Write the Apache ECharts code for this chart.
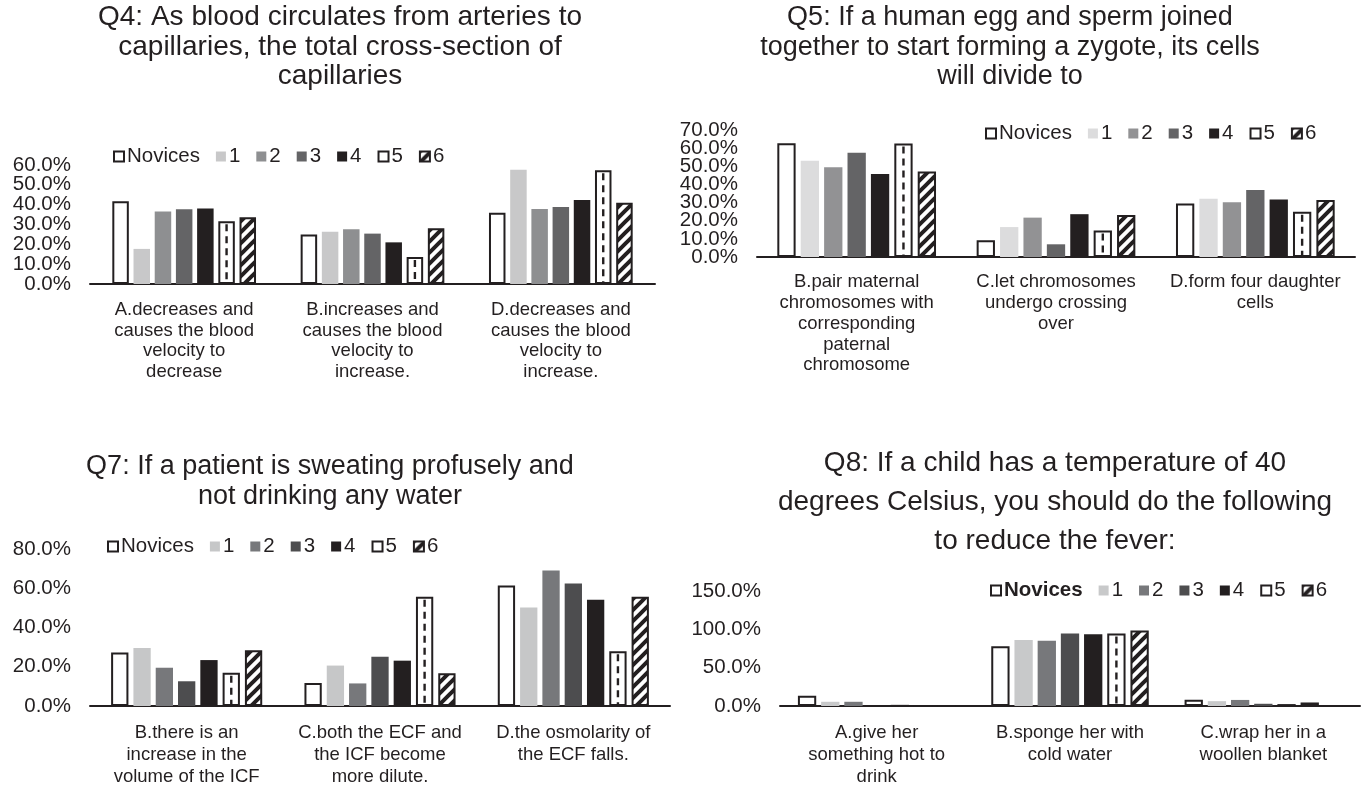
<!DOCTYPE html>
<html>
<head>
<meta charset="utf-8">
<script src="https://cdn.jsdelivr.net/npm/echarts@6/dist/echarts.min.js"></script>
<style>
  html, body { margin: 0; padding: 0; background: #fff; width: 1364px; height: 791px; overflow: hidden; }
  .panel { position: absolute; left: 0; top: 0; width: 1364px; height: 791px; }
</style>
</head>
<body>
<div id="q4" class="panel"></div>
<div id="q5" class="panel"></div>
<div id="q7" class="panel"></div>
<div id="q8" class="panel"></div>
<script>
// Respondent groups shown in every chart
const seriesNames = ['Novices', '1', '2', '3', '4', '5', '6'];

// Q4 — answer options and share (%) per group (rows follow seriesNames)
const q4Title = 'Q4: As blood circulates from arteries to\ncapillaries, the total cross-section of\ncapillaries';
const q4Categories = [
  'A.decreases and\ncauses the blood\nvelocity to\ndecrease',
  'B.increases and\ncauses the blood\nvelocity to\nincrease.',
  'D.decreases and\ncauses the blood\nvelocity to\nincrease.'
];
const q4Values = [
  [41.7, 24.9, 35.9],
  [17.7, 26.3, 57.6],
  [36.5, 27.6, 37.8],
  [37.7, 25.4, 38.8],
  [38.1, 21.0, 42.4],
  [31.7, 13.6, 57.3],
  [33.6, 28.1, 41.0]
];
const q4Ticks = [0, 10, 20, 30, 40, 50, 60];

// Q5
const q5Title = 'Q5: If a human egg and sperm joined\ntogether to start forming a zygote, its cells\nwill divide to';
const q5Categories = [
  'B.pair maternal\nchromosomes with\ncorresponding\npaternal\nchromosome',
  'C.let chromosomes\nundergo crossing\nover',
  'D.form four daughter\ncells'
];
const q5Values = [
  [62.7, 9.3, 29.5],
  [53.0, 16.5, 32.1],
  [49.4, 21.7, 30.2],
  [57.4, 7.0, 36.9],
  [45.8, 23.6, 31.7],
  [62.5, 14.6, 24.9],
  [47.1, 23.2, 31.4]
];
const q5Ticks = [0, 10, 20, 30, 40, 50, 60, 70];

// Q7
const q7Title = 'Q7: If a patient is sweating profusely and\nnot drinking any water';
const q7Categories = [
  'B.there is an\nincrease in the\nvolume of the ICF',
  'C.both the ECF and\nthe ICF become\nmore dilute.',
  'D.the osmolarity of\nthe ECF falls.'
];
const q7Values = [
  [27.2, 11.7, 61.4],
  [29.6, 20.6, 50.2],
  [19.5, 11.5, 69.1],
  [12.6, 25.1, 62.4],
  [23.4, 23.1, 54.2],
  [17.0, 55.7, 27.9],
  [28.4, 16.7, 55.7]
];
const q7Ticks = [0, 20, 40, 60, 80];

// Q8
const q8Title = 'Q8: If a child has a temperature of 40\ndegrees Celsius, you should do the following\nto reduce the fever:';
const q8Categories = [
  'A.give her\nsomething hot to\ndrink',
  'B.sponge her with\ncold water',
  'C.wrap her in a\nwoollen blanket'
];
const q8Values = [
  [13.5, 78.0, 8.3],
  [5.5, 86.0, 6.3],
  [5.5, 85.0, 7.9],
  [0, 94.5, 2.9],
  [1.5, 93.5, 2.5],
  [0, 94.5, 4.6],
  [0, 98.5, 0]
];
const q8Ticks = [0, 50, 100, 150];

const INK = '#231f20';
const FONT = '"Liberation Sans", Arial, Helvetica, sans-serif';

// Diagonal "/" hatch used by group 6
function makeHatch() {
  const s = 11;
  const c = document.createElement('canvas');
  c.width = s; c.height = s;
  const ctx = c.getContext('2d');
  ctx.fillStyle = '#ffffff';
  ctx.fillRect(0, 0, s, s);
  ctx.strokeStyle = INK;
  ctx.lineWidth = 4;
  ctx.lineCap = 'square';
  ctx.beginPath();
  ctx.moveTo(-1, s + 1); ctx.lineTo(s + 1, -1);
  ctx.moveTo(-3, 3); ctx.lineTo(3, -3);
  ctx.moveTo(s - 3, s + 3); ctx.lineTo(s + 3, s - 3);
  ctx.stroke();
  return c;
}
const hatch = makeHatch();

// Value axis; tick labels are split over two stacked axes (even / odd ticks)
// so the tightly packed percentages are all kept.
function valueAxis(ticks, parity) {
  const step = ticks[1] - ticks[0];
  return {
    type: 'value',
    position: 'left',
    offset: 0,
    min: ticks[0],
    max: ticks[ticks.length - 1],
    interval: step,
    axisLine: { show: false },
    axisTick: { show: false },
    splitLine: { show: false },
    axisLabel: {
      color: INK,
      fontFamily: FONT,
      fontSize: 20.5,
      margin: 19,
      showMinLabel: true,
      showMaxLabel: true,
      hideOverlap: false,
      formatter: v => (Math.round(v / step) % 2 === parity ? v.toFixed(1) + '%' : '')
    }
  };
}

function buildChart(el, cfg) {
  const chart = echarts.init(document.getElementById(el), null, { renderer: 'canvas' });
  const bw = cfg.barWidth, gap = cfg.barGap;
  const total = 7 * bw + 6 * gap;
  const offset5 = -total / 2 + bw / 2 + 5 * (bw + gap);

  const fills = [
    '#ffffff', cfg.colors[0], cfg.colors[1], cfg.colors[2], cfg.colors[3],
    '#ffffff', { image: hatch, repeat: 'repeat' }
  ];
  const outlined = [true, false, false, false, false, true, true];

  const series = seriesNames.map((name, k) => ({
    type: 'bar',
    name: name,
    data: cfg.values[k],
    barWidth: bw,
    barGap: (gap / bw * 100) + '%',
    itemStyle: outlined[k]
      ? { color: fills[k], borderColor: INK, borderWidth: 2 }
      : { color: fills[k] },
    emphasis: { disabled: true },
    animation: false
  }));

  // dashed centre line of group 5 bars
  series.push({
    type: 'custom',
    silent: true,
    animation: false,
    z: 5,
    data: cfg.values[5].map((v, i) => [i, v]),
    encode: { x: 0, y: 1 },
    renderItem: function (params, api) {
      const v = api.value(1);
      if (!v) return null;
      const i = api.value(0);
      const top = api.coord([i, v]);
      const base = api.coord([i, 0]);
      const x = top[0] + offset5;
      return {
        type: 'line',
        shape: { x1: x, y1: top[1] + 3, x2: x, y2: base[1] - 1 },
        style: { stroke: INK, lineWidth: 2.4, lineDash: [7, 5] }
      };
    }
  });

  chart.setOption({
    backgroundColor: 'transparent',
    animation: false,
    textStyle: { fontFamily: FONT },
    title: {
      text: cfg.title,
      left: cfg.titleX,
      top: cfg.titleY,
      padding: 0,
      textAlign: 'center',
      textStyle: {
        fontFamily: FONT, fontSize: cfg.titleSize, fontWeight: 'normal',
        color: INK, lineHeight: cfg.titleLine
      }
    },
    legend: {
      data: seriesNames,
      left: cfg.legendX,
      top: cfg.legendY,
      icon: 'rect',
      itemWidth: 10,
      itemHeight: 10,
      itemGap: cfg.legendGap,
      padding: 0,
      selectedMode: false,
      formatter: cfg.boldFirst
        ? (n => n === 'Novices' ? '{b|Novices}' : n)
        : (n => n),
      textStyle: {
        fontFamily: FONT, fontSize: 20.5, color: INK, padding: [0, 0, 0, -2],
        rich: { b: { fontFamily: FONT, fontSize: 20.5, fontWeight: 'bold', color: INK } }
      }
    },
    grid: {
      left: cfg.grid[0], top: cfg.grid[1], width: cfg.grid[2], height: cfg.grid[3],
      containLabel: false
    },
    xAxis: {
      type: 'category',
      data: cfg.categories,
      axisTick: { show: false },
      axisLine: { lineStyle: { color: INK, width: 2 } },
      axisLabel: {
        interval: 0,
        color: INK,
        fontFamily: FONT,
        fontSize: cfg.catSize,
        lineHeight: cfg.catLine,
        margin: cfg.catMargin
      }
    },
    yAxis: [valueAxis(cfg.ticks, 0), valueAxis(cfg.ticks, 1)],
    series: series
  });
  return chart;
}

buildChart('q4', {
  title: q4Title, titleX: 340, titleY: 3, titleSize: 28, titleLine: 29.5,
  categories: q4Categories, values: q4Values, ticks: q4Ticks,
  colors: ['#c8c8c9', '#8e8f91', '#646466', INK],
  grid: [90, 165, 565, 119],
  barWidth: 16.5, barGap: 4.7,
  legendX: 113, legendY: 146, legendGap: 16, boldFirst: false,
  catSize: 18.5, catLine: 20.5, catMargin: 16
});

buildChart('q5', {
  title: q5Title, titleX: 1010, titleY: 3, titleSize: 27, titleLine: 29.5,
  categories: q5Categories, values: q5Values, ticks: q5Ticks,
  colors: ['#dcdcdd', '#929294', '#646466', INK],
  grid: [757, 130, 598, 127],
  barWidth: 18.3, barGap: 5.1,
  legendX: 985, legendY: 123, legendGap: 16, boldFirst: false,
  catSize: 18.5, catLine: 20.7, catMargin: 15
});

buildChart('q7', {
  title: q7Title, titleX: 330, titleY: 452, titleSize: 27, titleLine: 29.5,
  categories: q7Categories, values: q7Values, ticks: q7Ticks,
  colors: ['#c6c7c8', '#77787b', '#4d4d4f', INK],
  grid: [90, 549, 580, 157],
  barWidth: 17.3, barGap: 5,
  legendX: 107, legendY: 536, legendGap: 16, boldFirst: false,
  catSize: 18.5, catLine: 22, catMargin: 16
});

buildChart('q8', {
  title: q8Title, titleX: 1055, titleY: 444, titleSize: 28, titleLine: 39,
  categories: q8Categories, values: q8Values, ticks: q8Ticks,
  colors: ['#c8c9ca', '#77787b', '#4d4d4f', INK],
  grid: [780, 591, 580, 115],
  barWidth: 18.3, barGap: 4.9,
  legendX: 990, legendY: 580, legendGap: 16, boldFirst: true,
  catSize: 18.5, catLine: 22, catMargin: 16
});
</script>
</body>
</html>
